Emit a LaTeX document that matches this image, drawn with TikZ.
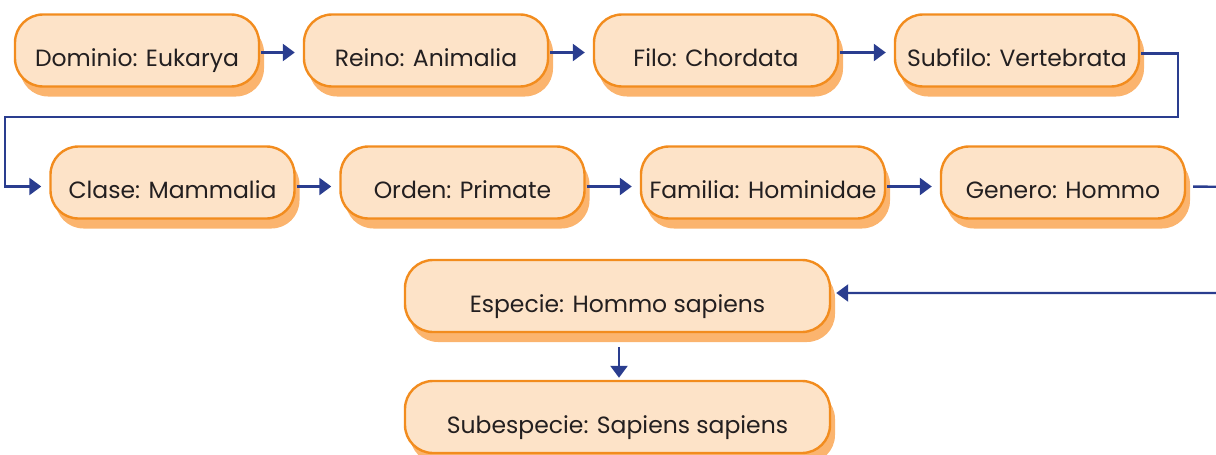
\documentclass[tikz,border=0pt]{standalone}
\usepackage{fontspec}
\setmainfont{Poppins}
\usetikzlibrary{arrows.meta,shadows}
\definecolor{boxfill}{HTML}{FDE3C8}
\definecolor{boxline}{HTML}{F28C1E}
\definecolor{shadowc}{HTML}{FBB46E}
\definecolor{arrowc}{HTML}{2A3D8F}
\definecolor{txt}{HTML}{231F20}
\newcommand{\lowtext}[1]{\raisebox{-16pt}[0pt][0pt]{#1}}
\begin{document}
\begin{tikzpicture}[x=1pt,y=-1pt,
  taxbox/.style={draw=boxline, line width=2.4pt, fill=boxfill, rounded corners=28pt,
    minimum width=244pt, minimum height=72pt, inner sep=0pt, text=txt,
    font=\fontsize{23.5}{26}\selectfont,
    drop shadow={shadow xshift=5pt, shadow yshift=-10pt, fill=shadowc, opacity=1}},
  widebox/.style={taxbox, minimum width=425pt},
  conn/.style={draw=arrowc, line width=2.4pt, -{Triangle[length=12pt,width=17pt]},
    shorten >=8pt, shorten <=1pt}
]
\useasboundingbox (0,0) rectangle (1216,455);
% row 1
\node[taxbox] (dom) at (137,50.5) {\lowtext{Dominio: Eukarya}};
\node[taxbox] (rei) at (426,50.5) {\lowtext{Reino: Animalia}};
\node[taxbox] (fil) at (716,50.5) {\lowtext{Filo: Chordata}};
\node[taxbox] (sub) at (1017,50.5) {\lowtext{Subfilo: Vertebrata}};
% row 2
\node[taxbox] (cla) at (172.5,182.5) {\lowtext{Clase: Mammalia}};
\node[taxbox] (ord) at (462.5,182.5) {\lowtext{Orden: Primate}};
\node[taxbox] (fam) at (763,182.5) {\lowtext{Familia: Hominidae}};
\node[taxbox] (gen) at (1063,182.5) {\lowtext{Genero: Hommo}};
% row 3
\node[widebox] (esp) at (617.5,296) {\lowtext{Especie: Hommo sapiens}};
\node[widebox] (sube) at (617.5,417) {\lowtext{Subespecie: Sapiens sapiens}};
% connectors
\draw[conn] ([yshift=-2pt]dom.east) -- ([yshift=-2pt]rei.west);
\draw[conn] ([yshift=-2pt]rei.east) -- ([yshift=-2pt]fil.west);
\draw[conn] ([yshift=-2pt]fil.east) -- ([yshift=-2pt]sub.west);
\coordinate (c1) at (1178,117);
\coordinate (c2) at (5,117);
\draw[conn] ([yshift=-3pt]sub.east) -| (c1) -- (c2) |- ([yshift=-4pt]cla.west);
\draw[conn] ([yshift=-4pt]cla.east) -- ([yshift=-4pt]ord.west);
\draw[conn] ([yshift=-4pt]ord.east) -- ([yshift=-4pt]fam.west);
\draw[conn] ([yshift=-4pt]fam.east) -- ([yshift=-4pt]gen.west);
\coordinate (c3) at (1240,187);
\draw[conn, shorten <=7pt, shorten >=5pt] ([yshift=-4pt]gen.east) -- (c3) |- ([yshift=3pt]esp.east);
\coordinate (d1) at (619,347);
\draw[conn, shorten >=2pt, shorten <=0pt] (d1) -- (d1 |- sube.north);
\end{tikzpicture}
\end{document}
